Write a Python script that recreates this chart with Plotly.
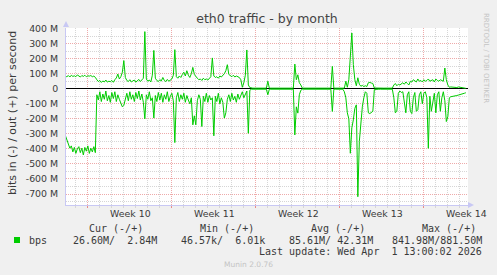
import plotly.graph_objects as go
import pandas as pd

# ---------------- data (Mbit/s, 3-hour samples) ----------------
start_time = "2026-02-27 04:00"
sample_freq = "3h"

out_mbps = (
    [84, 80, 88, 78, 90, 82, 86, 80, 92, 84, 78, 88, 82, 90, 80, 86, 84, 88, 80, 84, 76]
    + [60, 48, 55, 42, 52, 45, 58, 44, 50, 47, 55, 43, 60, 72, 98, 65, 80, 110, 187, 75,
       55, 48, 60, 45, 52, 58, 44, 55, 62, 48, 56, 70]
    + [380, 65, 50, 58, 45, 90, 255, 70, 55, 48,
       60, 52, 75, 55, 48, 62, 50, 58, 65, 90,
       260, 80, 70, 85, 75, 95, 110, 85, 120, 90,
       75, 100, 142, 95, 80, 70, 60, 65, 55, 70,
       60, 65, 58, 72, 80, 205, 85, 75, 80, 70,
       85, 78, 90, 100, 120, 160, 95, 85, 80, 90,
       78, 85, 80, 75, 60, 10, 40, 90, 258, 25, 8]
    + [4] * 11 + [50] + [4] * 17
    + [164, 60, 93, 40, 25]
    + [4] * 20 + [149] + [4] * 8
    + [50, 10, 60, 250, 371, 160, 60, 20, 73, 30, 17, 22, 15, 20, 15, 40, 42, 38, 35, 5]
    + [4] * 12
    + [25, 35, 20, 30, 25, 35, 40, 30, 45, 35, 25, 50, 45, 60, 55, 45, 65, 50, 55, 45,
       60, 50, 55, 65, 50, 55, 60, 45, 65, 55, 50, 60, 55, 50, 138]
    + [60, 25, 10, 12, 10, 12, 10, 8, 12, 10, 8, 6, 5, 2.84]
)

in_mbps = (
    [310, 340, 375, 395, 380, 420, 390, 430, 400, 385, 425, 395, 440, 390, 415, 380, 430,
     395, 420, 385, 425]
    + [40, 75, 20, 85, 35, 70, 15, 80, 45, 90,
       25, 65, 20, 85, 40, 70, 100, 120, 110, 60,
       30, 80, 20, 70, 40, 85, 25, 65, 15, 75,
       35, 90, 200, 40, 70, 20, 80, 60, 195, 45,
       85, 25, 75, 30, 90, 40, 70, 20, 85, 50,
       30, 80, 358, 60, 25, 85, 40, 70, 30, 90,
       45, 75, 100, 60, 240, 180, 240, 80, 40, 70,
       251, 50, 85, 30, 90, 45, 75, 60, 313, 50,
       85, 30, 100, 60, 90, 195, 160, 70, 40, 85,
       30, 75, 50, 90, 35, 70, 45, 20, 60, 30,
       15, 296, 10]
    + [3] * 11 + [40] + [3] * 17
    + [307, 120, 162, 40, 10]
    + [3] * 20 + [151] + [3] * 7
    + [20, 60, 160, 200, 429, 260, 207, 130, 107, 718, 350, 227, 120, 60, 20, 30, 160, 165,
       160, 150, 5]
    + [3] * 12
    + [60, 160, 150, 30, 15, 25, 20, 110, 160, 40, 20, 150, 165, 60, 25, 150, 140, 40, 20,
       100, 30, 20, 60, 396, 50, 150, 80, 30, 160, 40, 20, 150, 60, 20, 80]
    + [218, 185, 60, 53, 52, 50, 48, 45, 42, 40, 36, 33, 30, 26.6]
)

week_starts = ["2026-03-01", "2026-03-08", "2026-03-15", "2026-03-22", "2026-03-29"]
week_labels = ["Week 10", "Week 11", "Week 12", "Week 13", "Week 14"]

y_ticks = [400, 300, 200, 100, 0, -100, -200, -300, -400, -500, -600, -700]
y_ticktext = [("%d M" % v) if v != 0 else "0" for v in y_ticks]

x_range = ["2026-02-27 05:20", "2026-04-01 17:20"]
y_range = [-773, 404]

legend_headers = ["Cur (-/+)", "Min (-/+)", "Avg (-/+)", "Max (-/+)"]
legend_values = ["26.60M/  2.84M", "46.57k/  6.01k", "85.61M/ 42.31M", "841.98M/881.50M"]
last_update = "Last update: Wed Apr  1 13:00:02 2026"

# ---------------- figure ----------------
W, H = 497, 275
PL, PR, PT, PB = 66, 468, 28, 205   # plot area in pixels
GREEN = "#00cc00"
SANS = "DejaVu Sans"
MONO = "DejaVu Sans Mono"
TXT = "#3a3a3a"


def fx(X):
    return (X - PL) / (PR - PL)


def fy(Y):
    return (PB - Y) / (PB - PT)


times = pd.date_range(start_time, periods=len(out_mbps), freq=sample_freq)

fig = go.Figure()
fig.add_trace(go.Scatter(x=times, y=out_mbps, mode="lines",
                         line=dict(color=GREEN, width=1), showlegend=False,
                         hoverinfo="skip"))
fig.add_trace(go.Scatter(x=times, y=[-v for v in in_mbps], mode="lines",
                         line=dict(color=GREEN, width=1), showlegend=False,
                         hoverinfo="skip"))

annotations = []
for ws, lab in zip(week_starts, week_labels):
    c = pd.Timestamp(ws) + pd.Timedelta(hours=86)
    annotations.append(dict(text=lab, x=c, xref="x", y=fy(213), yref="paper",
                            xanchor="center", yanchor="middle", showarrow=False,
                            font=dict(family=SANS, size=9.4, color=TXT)))

annotations.append(dict(text="bits in (-) / out (+) per second", x=fx(12), y=fy(113),
                        xref="paper", yref="paper", textangle=-90, showarrow=False,
                        xanchor="center", yanchor="middle",
                        font=dict(family=SANS, size=11, color=TXT)))
annotations.append(dict(text="RRDTOOL / TOBI OETIKER", x=fx(486), y=fy(58),
                        xref="paper", yref="paper", textangle=90, showarrow=False,
                        xanchor="center", yanchor="middle",
                        font=dict(family=SANS, size=7, color="#c4c4c4")))

header_x = [116, 227, 338, 449]
for hx, h in zip(header_x, legend_headers):
    annotations.append(dict(text=h.replace(" ", "&nbsp;"), x=fx(hx), y=fy(228.5), xref="paper",
                            yref="paper", xanchor="center", yanchor="middle",
                            showarrow=False, font=dict(family=MONO, size=10, color=TXT)))
annotations.append(dict(text="bps", x=fx(26.5), y=fy(240), xref="paper", yref="paper",
                        xanchor="left", yanchor="middle", showarrow=False,
                        font=dict(family=MONO, size=10, color=TXT)))
value_right = [158.5, 266.5, 375, 483.5]
for vx, v in zip(value_right, legend_values):
    annotations.append(dict(text=v.replace(" ", "&nbsp;"), x=fx(vx), y=fy(240), xref="paper",
                            yref="paper", xanchor="right", yanchor="middle",
                            showarrow=False, font=dict(family=MONO, size=10, color=TXT)))
annotations.append(dict(text=last_update.replace(" ", "&nbsp;"), x=fx(483.5), y=fy(251.5),
                        xref="paper", yref="paper", xanchor="right", yanchor="middle",
                        showarrow=False, font=dict(family=MONO, size=10, color=TXT)))
annotations.append(dict(text="Munin 2.0.76", x=fx(248), y=fy(264.5), xref="paper",
                        yref="paper", xanchor="center", yanchor="middle", showarrow=False,
                        font=dict(family=SANS, size=7.5, color="#c4c4c4")))

AXIS_BLUE = "#c8c8f4"
shapes = [
    dict(type="rect", xref="paper", yref="paper", x0=fx(14), x1=fx(20),
         y0=fy(243), y1=fy(237), fillcolor=GREEN, line=dict(width=0)),
    dict(type="path", xref="paper", yref="paper",
         path="M %f %f L %f %f L %f %f Z" % (fx(63), fy(27), fx(69), fy(27), fx(66), fy(21)),
         fillcolor=AXIS_BLUE, line=dict(width=0)),
    dict(type="path", xref="paper", yref="paper",
         path="M %f %f L %f %f L %f %f Z" % (fx(468), fy(202), fx(468), fy(208), fx(474), fy(205)),
         fillcolor=AXIS_BLUE, line=dict(width=0)),
]

fig.update_layout(
    width=W, height=H,
    margin=dict(l=PL, r=W - PR, t=PT, b=H - PB, pad=0),
    paper_bgcolor="#f0f0f0", plot_bgcolor="#ffffff",
    title=dict(text="eth0 traffic - by month", x=0.5, xref="paper", xanchor="center",
               y=1 - 19 / H, yref="container", yanchor="middle",
               font=dict(family=SANS, size=12.5, color="#444444")),
    showlegend=False,
    annotations=annotations,
    shapes=shapes,
    font=dict(family=SANS, color=TXT),
)

fig.update_xaxes(
    type="date", range=x_range, fixedrange=True,
    tickmode="array", tickvals=week_starts, showticklabels=False,
    ticks="outside", ticklen=2, tickcolor="#e88a8a", tickwidth=1,
    showgrid=True, gridcolor="#eeaaaa", griddash="1px,1px", gridwidth=1,
    showline=True, linecolor=AXIS_BLUE, linewidth=1,
    zeroline=False,
    minor=dict(dtick=86400000, tick0="2026-03-01", showgrid=True,
               gridcolor="#d6d6d6", griddash="1px,1px", gridwidth=1,
               ticks="outside", ticklen=2, tickcolor="#d6d6d6"),
)

fig.update_yaxes(
    range=y_range, fixedrange=True,
    tickmode="array", tickvals=y_ticks, ticktext=y_ticktext,
    tickfont=dict(family=SANS, size=9.4, color=TXT),
    ticks="", ticklabelstandoff=5,
    showgrid=True, gridcolor="#eeaaaa", griddash="1px,1px", gridwidth=1,
    showline=True, linecolor=AXIS_BLUE, linewidth=1,
    zeroline=True, zerolinecolor="#000000", zerolinewidth=1,
    minor=dict(dtick=50, tick0=0, showgrid=True, gridcolor="#d6d6d6",
               griddash="1px,1px", gridwidth=1),
)

fig.write_html("out.html")
